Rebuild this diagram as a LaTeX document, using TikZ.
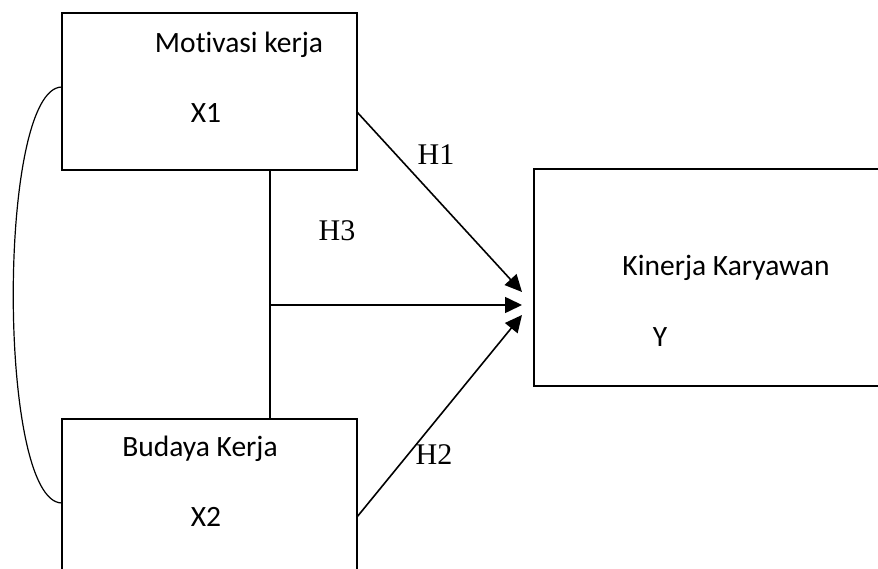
\documentclass[tikz,border=0pt]{standalone}
\usepackage{fontspec}
\setmainfont[Ligatures=NoCommon]{Carlito}
\newfontfamily\hfont{Liberation Serif}
\usetikzlibrary{arrows.meta}
\begin{document}
\begin{tikzpicture}[x=1pt,y=-1pt,
  box/.style={draw,line width=1.6pt,rectangle,inner sep=0pt},
  btext/.style={font=\fontsize{29.5}{34}\selectfont,inner sep=0pt,anchor=center},
  hlab/.style={font=\hfont\fontsize{30}{36}\selectfont,inner sep=0pt,anchor=center},
  arr/.style={line width=1.6pt,-{Triangle[length=17pt,width=16pt]}},
  conn/.style={line width=1.6pt}]
\useasboundingbox (0,0) rectangle (878,569);
\clip (0,0) rectangle (878,569);
% boxes
\node[box,minimum width=295pt,minimum height=157pt] (b1) at (209.5,91.5) {};
\node[box,minimum width=295pt,minimum height=200pt] (b2) at (209.5,519) {};
\node[box,minimum width=380pt,minimum height=217pt] (b3) at (724,277.5) {};
% texts
\node[btext] (m1) at (239,45) {Motivasi kerja};
\node[btext] (x1) at (206,113) {X1};
\node[btext] (m2) at (200,449) {Budaya Kerja};
\node[btext] (x2) at (206,517) {X2};
\node[btext] (m3) at (726,268) {Kinerja Karyawan};
\node[btext] (y) at (660,337) {Y};
% labels
\node[hlab] (h1) at (436,155) {H1};
\node[hlab] (h3) at (337,231) {H3};
\node[hlab] (h2) at (434,455) {H2};
% connectors
\coordinate (s1) at (357,112);
\coordinate (s2) at (357,517);
\coordinate (t1) at (522,292);
\coordinate (t3) at (522,305);
\coordinate (t2) at (522,315);
\coordinate (j) at (270,305);
\coordinate (c1) at (62,87);
\coordinate (c2) at (62,503);
\draw[conn] (b1.south -| j) -- (b2.north -| j);
\draw[arr] (j) -- (t3);
\draw[arr] (s1) -- (t1);
\draw[arr] (s2) -- (t2);
\draw[line width=1.2pt] (c1) .. controls (-3,87) and (-3,503) .. (c2);
\end{tikzpicture}
\end{document}
